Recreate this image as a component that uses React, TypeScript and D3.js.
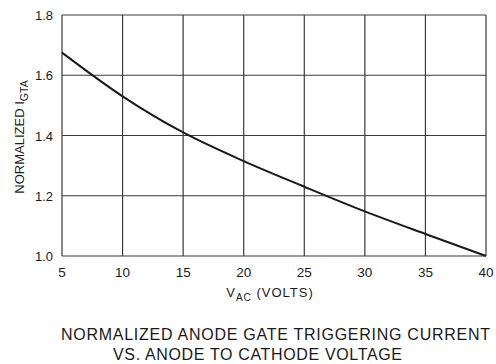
import * as d3 from "d3";

const voltage = [5, 10, 15, 20, 25, 30, 35, 40];
const igta = [1.675, 1.53, 1.41, 1.315, 1.23, 1.148, 1.073, 1.0];
const xTicks = [5, 10, 15, 20, 25, 30, 35, 40];
const yTicks = [1.0, 1.2, 1.4, 1.6, 1.8];
const titleLines = [
  "NORMALIZED ANODE GATE TRIGGERING CURRENT",
  "VS. ANODE TO CATHODE VOLTAGE",
];

const W = 496;
const H = 364;
const PLOT = { left: 62, right: 486, top: 15, bottom: 256 };
const FONT = "'Liberation Sans', Arial, sans-serif";
const INK = "#1a1a1a";
const GRID = "#3a3a3a";

export default function App() {
  const x = d3.scaleLinear().domain([5, 40]).range([PLOT.left, PLOT.right]);
  const y = d3.scaleLinear().domain([1.0, 1.8]).range([PLOT.bottom, PLOT.top]);

  const pts = voltage.map((v, i) => [v, igta[i]] as [number, number]);
  const line = d3
    .line<[number, number]>()
    .x((d) => x(d[0]))
    .y((d) => y(d[1]))
    .curve(d3.curveMonotoneX);

  return (
    <svg
      width={W}
      height={H}
      style={{ position: "absolute", left: 0, top: 0, background: "#fff" }}
      fontFamily={FONT}
    >
      {/* grid */}
      {xTicks.map((t) => (
        <line
          key={"gx" + t}
          x1={x(t)}
          x2={x(t)}
          y1={PLOT.top}
          y2={PLOT.bottom}
          stroke={GRID}
          strokeWidth={1.2}
        />
      ))}
      {yTicks.map((t) => (
        <line
          key={"gy" + t}
          x1={PLOT.left}
          x2={PLOT.right}
          y1={y(t)}
          y2={y(t)}
          stroke={GRID}
          strokeWidth={1.2}
        />
      ))}

      {/* curve */}
      <path d={line(pts) ?? ""} fill="none" stroke={INK} strokeWidth={2} />

      {/* tick labels */}
      {yTicks.map((t) => (
        <text
          key={"ly" + t}
          x={PLOT.left - 9}
          y={y(t) + 5}
          textAnchor="end"
          fontSize={13}
          fill={INK}
        >
          {t.toFixed(1)}
        </text>
      ))}
      {xTicks.map((t) => (
        <text
          key={"lx" + t}
          x={x(t)}
          y={PLOT.bottom + 21}
          textAnchor="middle"
          fontSize={13.5}
          fill={INK}
        >
          {t}
        </text>
      ))}

      {/* x axis title */}
      <text x={270} y={297} textAnchor="middle" fontSize={13} fill={INK} letterSpacing={1}>
        <tspan>V</tspan>
        <tspan fontSize={10} dy={4}>AC</tspan>
        <tspan dy={-4}>{"  (VOLTS)"}</tspan>
      </text>

      {/* y axis title */}
      <text
        transform={`translate(24,137) rotate(-90)`}
        textAnchor="middle"
        fontSize={13}
        fill={INK}
      >
        <tspan>NORMALIZED I</tspan>
        <tspan fontSize={10.5} dy={4}>GTA</tspan>
      </text>

      {/* chart title */}
      {titleLines.map((s, i) => (
        <text
          key={s}
          x={i === 0 ? 61 : 113}
          y={340 + i * 20}
          fontSize={16}
          fill={INK}
          textLength={i === 0 ? 429 : 289}
          lengthAdjust="spacing"
        >
          {s}
        </text>
      ))}
    </svg>
  );
}
